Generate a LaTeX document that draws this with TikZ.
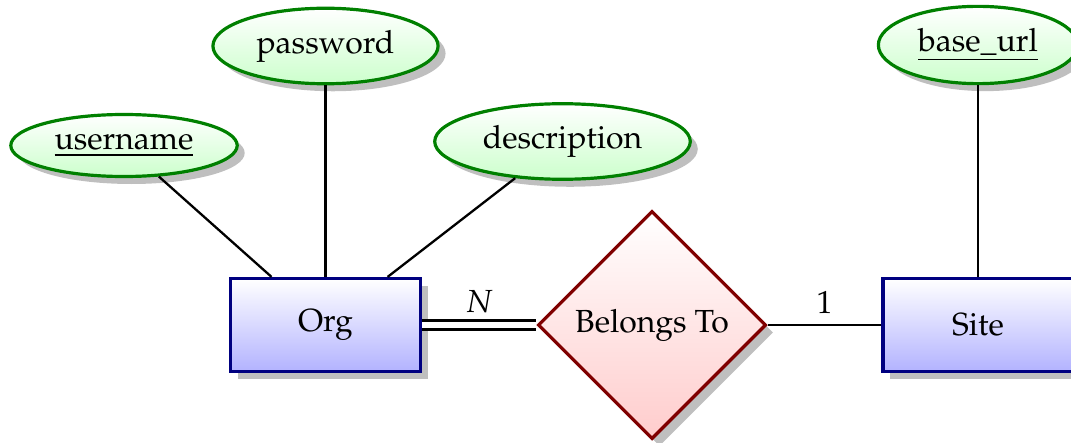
\documentclass[tikz,border=0pt]{standalone}
\usepackage[T1]{fontenc}
\usepackage{mathpazo}
\usetikzlibrary{shapes.geometric,shadows}

\tikzset{
  entity/.style={rectangle, draw=blue!50!black, line width=1pt,
    top color=white, bottom color=blue!30, drop shadow,
    minimum width=59.5pt, minimum height=29.1pt},
  attribute/.style={ellipse, draw=green!50!black, line width=1pt,
    top color=white, bottom color=green!20, drop shadow},
  relationship/.style={diamond, draw=red!50!black, line width=1pt,
    top color=white, bottom color=red!20, drop shadow,
    minimum width=70.7pt, minimum height=69.8pt},
  link/.style={line width=0.72pt, black},
  totallink/.style={line width=0.72pt, black, double, double distance=2.1pt},
}

\begin{document}
\begin{tikzpicture}[x=0.313pt, y=-0.313pt]
  \useasboundingbox (0,0) rectangle (1071,442);

  % entities and the relationship between them
  \node[entity] (org) at (325.5,325) {Org};
  \node[relationship] (belongs) at (652,325) {Belongs To};
  \node[entity] (site) at (978,325) {Site};

  % attributes of Org
  \node[attribute] (username) at (124,145.5) {\underline{username}};
  \node[attribute] (password) at (325.5,46) {password};
  \node[attribute] (description) at (562.5,141.5) {description};

  % attribute of Site
  \node[attribute] (baseurl) at (978,45) {\underline{base\_url}};

  % attribute links
  \draw[link] (username) -- (org);
  \draw[link] (password) -- (org);
  \draw[link] (description) -- (org);
  \draw[link] (baseurl) -- (site);

  % participation with cardinalities
  \draw[totallink] (org) -- node[above] {$N$} (belongs);
  \draw[link] (belongs) -- node[above] {1} (site);
\end{tikzpicture}
\end{document}
